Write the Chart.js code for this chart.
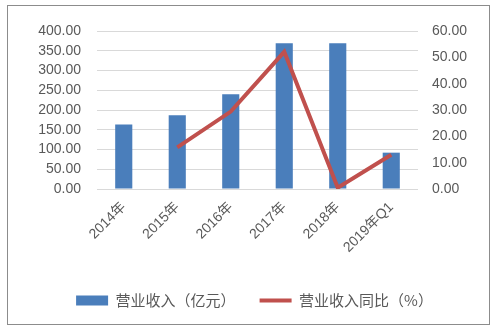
<!DOCTYPE html>
<html>
<head>
<meta charset="utf-8">
<script src="https://cdn.jsdelivr.net/npm/chart.js@4/dist/chart.umd.min.js"></script>
<style>
  html,body{margin:0;padding:0;background:#fff;}
  #box{position:absolute;left:7px;top:5px;width:481px;height:318px;border:1px solid #8c8c8c;}
  canvas{display:block;}
</style>
</head>
<body>
<div id="box"><canvas id="chart" width="481" height="318"></canvas></div>
<script>
var categories = ["2014年","2015年","2016年","2017年","2018年","2019年Q1"];
var revenue = [163, 187, 240, 369, 369, 92];
var revenueYoY = [null, 15.8, 29.4, 52.1, 0.5, 13.0];
var leftTicks = [0, 400, 50];
var rightTicks = [0, 60, 10];

var textColor = "#595959";
var latin = "'Liberation Sans', 'Noto Sans CJK SC', sans-serif";

var ctx = document.getElementById("chart");
new Chart(ctx, {
  data: {
    labels: categories,
    datasets: [
      {type: "line", label: "营业收入同比（%）", data: revenueYoY, yAxisID: "y1",
       borderColor: "#C0504D", backgroundColor: "#C0504D", borderWidth: 4,
       pointRadius: 0, pointStyle: "line", tension: 0, order: 0},
      {type: "bar", label: "营业收入（亿元）", data: revenue, yAxisID: "y",
       backgroundColor: "#4A7EBB", borderWidth: 0, pointStyle: "rect",
       barPercentage: 0.32, categoryPercentage: 1, order: 1}
    ]
  },
  options: {
    responsive: false,
    animation: false,
    layout: {padding: {top: 25, left: 12, right: 0, bottom: 6}},
    plugins: {
      tooltip: {enabled: false},
      legend: {
        position: "bottom",
        reverse: true,
        labels: {
          usePointStyle: true, pointStyleWidth: 32, boxHeight: 10,
          padding: 24, color: textColor,
          font: {family: "'Noto Sans CJK SC', sans-serif", size: 15}
        }
      }
    },
    scales: {
      x: {
        grid: {display: false}, border: {display: false},
        ticks: {color: textColor, minRotation: 45, maxRotation: 45, padding: 2,
                font: {family: latin, size: 14}},
        afterFit: function(s) { s.height = 80; }
      },
      y: {
        position: "left", min: leftTicks[0], max: leftTicks[1],
        grid: {color: "#D9D9D9", drawTicks: false}, border: {display: false},
        ticks: {stepSize: leftTicks[2], autoSkip: false, color: textColor, padding: 16,
                font: {family: latin, size: 14},
                callback: function(v) { return v.toFixed(2); }},
        afterFit: function(s) { s.width = 77; }
      },
      y1: {
        position: "right", min: rightTicks[0], max: rightTicks[1],
        grid: {display: false, drawTicks: false}, border: {display: false},
        ticks: {stepSize: rightTicks[2], autoSkip: false, color: textColor, padding: 14,
                font: {family: latin, size: 14},
                callback: function(v) { return v.toFixed(2); }},
        afterFit: function(s) { s.width = 71; }
      }
    }
  }
});
</script>
</body>
</html>
